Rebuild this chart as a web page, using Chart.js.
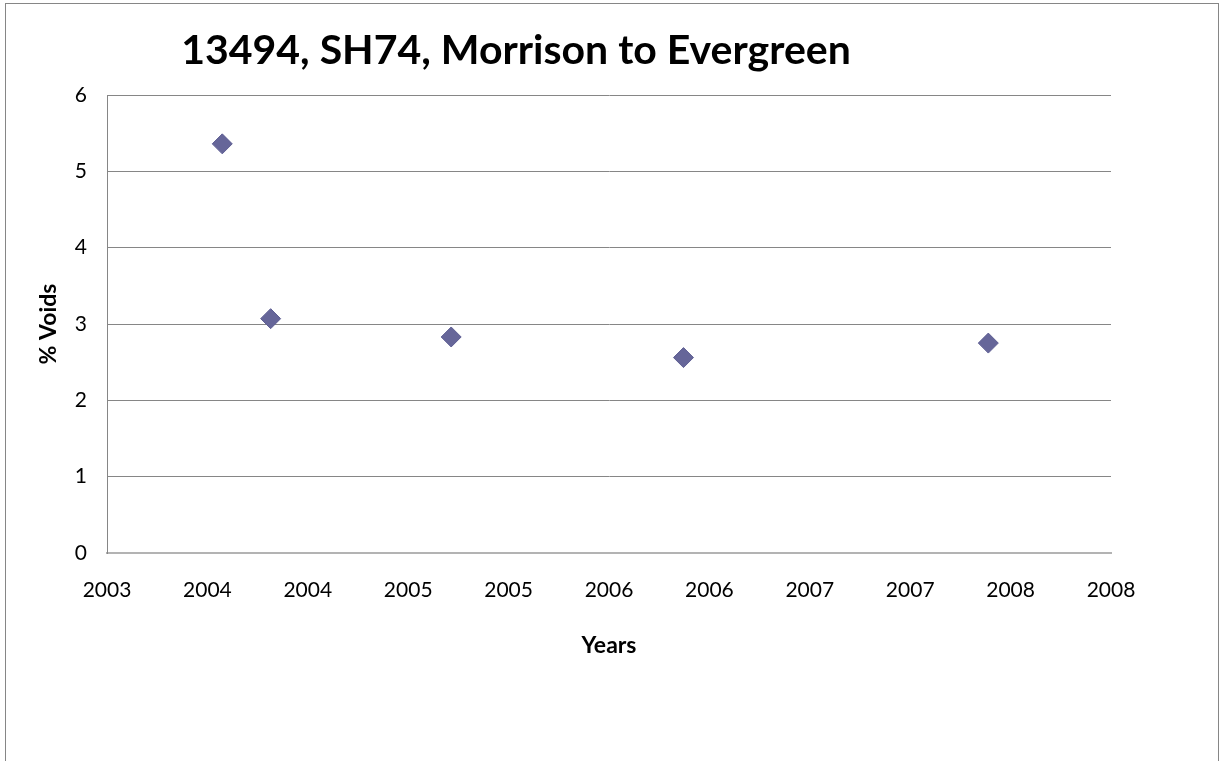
<!DOCTYPE html>
<html>
<head>
<meta charset="utf-8">
<script src="https://cdn.jsdelivr.net/npm/chart.js@4.4.0/dist/chart.umd.min.js"></script>
<style>
  html, body { margin: 0; padding: 0; background: #fff; overflow: hidden; }
  #frame {
    position: absolute; left: 5px; top: 3px;
    width: 1212px; height: 790px;
    border: 1px solid #868686;
  }
</style>
</head>
<body>
<div id="frame"><canvas id="myChart"></canvas></div>
<script>
// data (decimal years, % voids)
var chartTitle = '13494, SH74, Morrison to Evergreen';
var years = [2003.574, 2003.815, 2004.714, 2005.871, 2007.389];
var voids = [5.36, 3.07, 2.83, 2.56, 2.75];
var xTickMin = 2003, xTickMax = 2008, xTickStep = 0.5;
var yTickMin = 0, yTickMax = 6, yTickStep = 1;

var points = years.map(function (y, i) { return { x: y, y: voids[i] }; });

// title is not centred over the canvas in the original, so draw it ourselves
var titlePlugin = {
  id: 'sheetTitle',
  afterDraw: function (chart) {
    var ctx = chart.ctx;
    ctx.save();
    ctx.font = 'bold 41px Lato';
    ctx.fillStyle = '#000';
    ctx.textAlign = 'center';
    ctx.textBaseline = 'alphabetic';
    ctx.fillText(chartTitle, chart.chartArea.left + 409, 60);
    ctx.restore();
  }
};

Chart.defaults.font.family = 'Lato';
Chart.defaults.color = '#000';

window.config = {
  type: 'scatter',
  data: {
    datasets: [{
      label: '% Voids',
      data: points,
      pointStyle: 'rectRot',
      pointRadius: 10,
      pointHoverRadius: 10,
      backgroundColor: '#666699',
      borderColor: '#5e5e93',
      borderWidth: 1,
      showLine: false
    }]
  },
  options: {
    responsive: true,
    maintainAspectRatio: false,
    animation: false,
    layout: { padding: { top: 91, left: 25, right: 107, bottom: 131 } },
    plugins: {
      legend: { display: false },
      title: { display: false },
      tooltip: { enabled: false }
    },
    scales: {
      x: {
        type: 'linear',
        min: xTickMin,
        max: xTickMax,
        afterFit: function (s) { s.height = 110; },
        grid: { display: false, drawTicks: false },
        border: { display: true, color: '#b3b3b3', width: 2 },
        ticks: {
          stepSize: xTickStep,
          padding: 25,
          font: { size: 21 },
          callback: function (v) { return Math.round(v); }
        },
        title: { display: true, text: 'Years', font: { size: 23, weight: 'bold' } }
      },
      y: {
        min: yTickMin,
        max: yTickMax,
        afterFit: function (s) { s.width = 76; },
        grid: { color: '#868686', drawTicks: false },
        border: { display: true, color: '#868686' },
        ticks: { stepSize: yTickStep, padding: 20, font: { size: 21 } },
        title: { display: true, text: '% Voids', font: { size: 23, weight: 'bold' } }
      }
    }
  },
  plugins: [titlePlugin]
};

window.ctx = document.getElementById('myChart').getContext('2d');
window.myChart = new Chart(ctx, config);
</script>
</body>
</html>
